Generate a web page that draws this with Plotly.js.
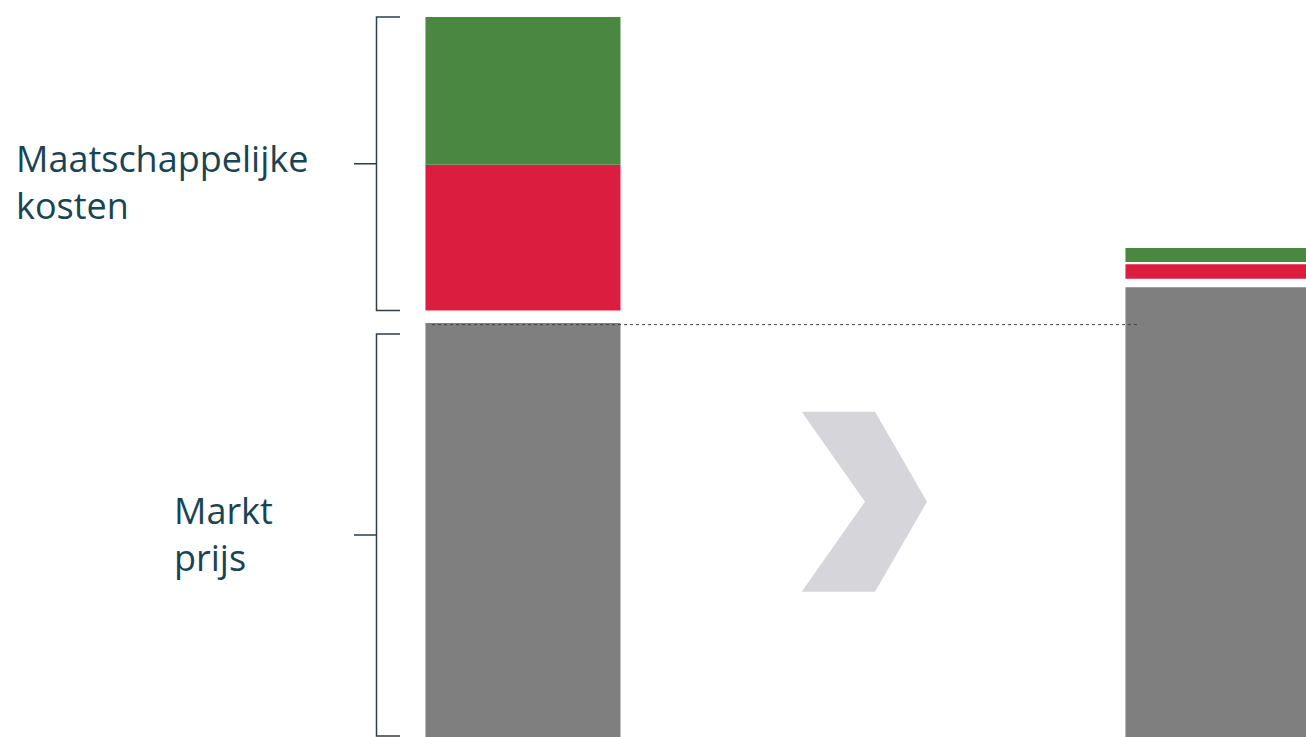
<!DOCTYPE html>
<html>
<head>
<meta charset="utf-8">
<script src="https://cdn.plot.ly/plotly-3.0.1.min.js"></script>
<style>html,body{margin:0;padding:0;background:#fff;}#chart{width:1306px;height:737px;}</style>
</head>
<body>
<div id="chart"></div>
<script>
// ---- data ----
const scenarios = [0, 1];                 // current situation, future situation
const marketPrice = [100, 108.6];         // grey: market price
const socialCostRed = [35.2, 3.5];        // red part of social costs
const socialCostGreen = [35.7, 3.4];      // green part of social costs
const labelCosts = "Maatschappelijke<br>kosten";
const labelMarket = "Markt<br>prijs";

// ---- styling / layout constants ----
const gapGreyRed = [3.0, 2.1];
const gapRedGreen = [0, 0.5];
const W = 1306, H = 737;
const xMin = -0.7471, xMax = 1.1186, yMax = 178.0;
const px2x = p => xMin + p / W * (xMax - xMin);
const py2y = p => (H - p) / H * yMax;

const redBase = marketPrice.map((v, i) => v + gapGreyRed[i]);
const greenBase = redBase.map((v, i) => v + socialCostRed[i] + gapRedGreen[i]);

const barW = 0.2786;
const traces = [
  {type: 'bar', x: scenarios, y: marketPrice, base: [0, 0], width: barW,
   marker: {color: '#7f7f7f', line: {width: 0}}, hoverinfo: 'skip', showlegend: false},
  {type: 'bar', x: scenarios, y: socialCostRed, base: redBase, width: barW,
   marker: {color: '#db1e40', line: {width: 0}}, hoverinfo: 'skip', showlegend: false},
  {type: 'bar', x: scenarios, y: socialCostGreen, base: greenBase, width: barW,
   marker: {color: '#4a8741', line: {width: 0}}, hoverinfo: 'skip', showlegend: false}
];

const bx = px2x(376.5), bxr = px2x(400), bxl = px2x(354);
const upTop = greenBase[0] + socialCostGreen[0];
const upBot = redBase[0];
const upMid = (upTop + upBot) / 2;
const loTop = py2y(334), loBot = py2y(736);
const loMid = (loTop + loBot) / 2;
const bracketLine = {color: '#2e3d47', width: 1.5};

const chev = [[801.7,411.7],[875,411.7],[927,501.7],[875,591.7],[801.7,591.7],[865,501.7]];
const chevPath = chev.map((p, i) => (i ? 'L' : 'M') + px2x(p[0]) + ',' + py2y(p[1])).join(' ') + ' Z';

const shapes = [
  {type: 'path', xref: 'x', yref: 'y', line: bracketLine,
   path: `M${bxr},${upTop} L${bx},${upTop} L${bx},${upBot} L${bxr},${upBot} M${bxl},${upMid} L${bx},${upMid}`},
  {type: 'path', xref: 'x', yref: 'y', line: bracketLine,
   path: `M${bxr},${loTop} L${bx},${loTop} L${bx},${loBot} L${bxr},${loBot} M${bxl},${loMid} L${bx},${loMid}`},
  {type: 'line', xref: 'x', yref: 'y', x0: px2x(432), x1: px2x(1139),
   y0: marketPrice[0] - 0.4, y1: marketPrice[0] - 0.4,
   line: {color: '#444', width: 1, dash: 'dot'}},
  {type: 'path', xref: 'x', yref: 'y', path: chevPath, fillcolor: '#d5d5da', line: {width: 0}, layer: 'below'}
];

const txtFont = {family: 'Open Sans, sans-serif', size: 36, color: '#1a4453'};
const annotations = [
  {xref: 'paper', yref: 'y', x: 14 / W, y: py2y(182), xanchor: 'left', yanchor: 'middle',
   text: labelCosts, showarrow: false, align: 'left', font: txtFont},
  {xref: 'paper', yref: 'y', x: 172 / W, y: py2y(534), xanchor: 'left', yanchor: 'middle',
   text: labelMarket, showarrow: false, align: 'left', font: txtFont}
];

const layout = {
  width: W, height: H,
  margin: {l: 0, r: 0, t: 0, b: 0, pad: 0},
  paper_bgcolor: '#fff', plot_bgcolor: '#fff',
  barmode: 'overlay',
  xaxis: {range: [xMin, xMax], visible: false, fixedrange: true},
  yaxis: {range: [0, yMax], visible: false, fixedrange: true},
  shapes: shapes, annotations: annotations, showlegend: false
};

Plotly.newPlot('chart', traces, layout, {displayModeBar: false, staticPlot: true});
</script>
</body>
</html>
